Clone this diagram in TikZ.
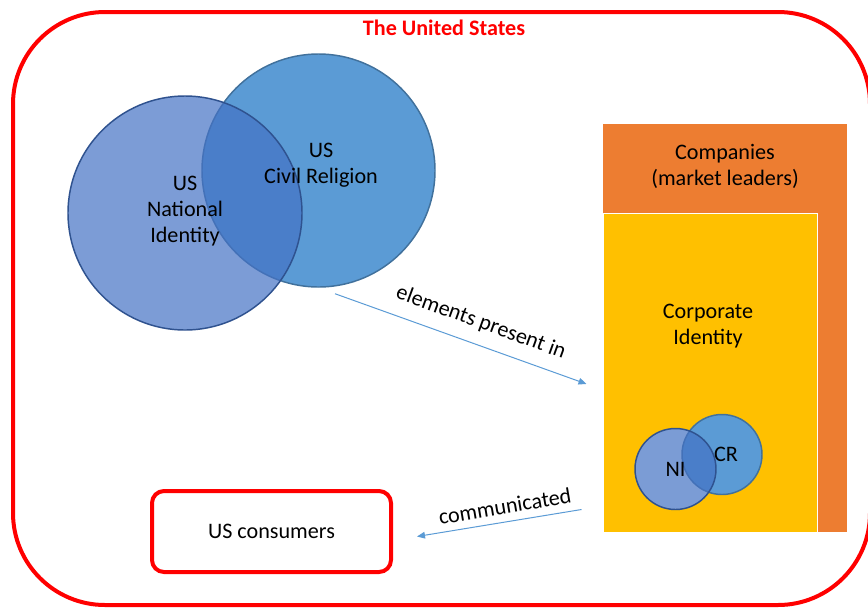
\documentclass[tikz,border=0pt]{standalone}
\usepackage{fontspec}
\setmainfont{Carlito}
\usepackage{tikz}
\usetikzlibrary{arrows.meta}

\definecolor{usred}{HTML}{FF0000}
\definecolor{comporange}{HTML}{ED7D31}
\definecolor{corpyellow}{HTML}{FFC000}
\definecolor{crblue}{HTML}{5B9BD5}
\definecolor{crline}{HTML}{41719C}
\definecolor{niblue}{HTML}{4472C4}
\definecolor{niline}{HTML}{2F528F}

\begin{document}
\begin{tikzpicture}[x=0.75pt, y=-0.75pt, >={Triangle[length=6pt, width=5pt]},
    font=\fontsize{16.6}{19.5}\selectfont,
    cr/.style={circle, draw=crline, fill=crblue, line width=1.1pt, inner sep=0pt},
    ni/.style={circle, draw=niline, fill=niblue, fill opacity=0.7, text opacity=1,
               line width=1.1pt, inner sep=0pt},
    block/.style={rectangle, inner sep=0pt},
    box/.style={draw=usred, line width=3pt, rounded corners=9pt},
    flow/.style={->, draw=crblue, line width=0.75pt},
    flowlabel/.style={anchor=south, inner sep=9pt}]
    \useasboundingbox (0,0) rectangle (868,608);

    % the country around everything
    \draw[usred, line width=3pt, rounded corners=69pt] (13,12) rectangle (870,605);
    \node[text=usred, font=\fontsize{16.6}{19.5}\selectfont\bfseries] (title) at (444,28) {The United States};

    % national identity and civil religion
    \node[cr, minimum size=174.75pt] (cr) at (318.5,170.5) {};
    \node[ni, minimum size=175.5pt] (ni) at (185,213) {};
    \node[align=center] (crlbl) at ([xshift=1.9pt, yshift=4.1pt]cr.center) {US\\Civil Religion};
    \node[align=center] (nilbl) at ([yshift=1.6pt]ni.center) {US\\National\\Identity};

    % companies and their corporate identity
    \node[block, fill=comporange, minimum width=183pt, minimum height=306pt] (comp) at (725,328) {};
    \node[align=center] (complbl) at (725,166) {Companies\\(market leaders)};
    \node[block, fill=corpyellow, draw=white, line width=0.75pt,
          minimum width=160.5pt, minimum height=239.25pt] (corp) at (710,372.5) {};
    \node[align=center] (corplbl) at (708,326) {Corporate\\Identity};

    % white base so the yellow does not show through NI
    \node[circle, fill=white, inner sep=0pt, minimum size=60.75pt] (ni2base) at (675.5,469) {};
    \node[cr, minimum size=60pt] (cr2) at (722,454.5) {};
    \node[ni, minimum size=60.75pt] (ni2) at (675.5,469) {NI};
    \node (cr2lbl) at ([xshift=3pt]cr2.center) {CR};

    \node[box, minimum width=179.25pt, minimum height=60.75pt] (cons) at (271.5,531.5) {US consumers};

    \draw[flow] ([xshift=12.4pt, yshift=-4.5pt]cr.south)
        -- node[flowlabel, pos=.55, rotate=-20] {elements present in}
        ([xshift=-12pt, yshift=-8.6pt]corp.west);
    \draw[flow] ([xshift=-15.75pt, yshift=17.25pt]corp.south west)
        -- node[flowlabel, pos=.45, rotate=9.5, inner sep=5.5pt] {communicated}
        ([xshift=18pt, yshift=-3.75pt]cons.east);
\end{tikzpicture}
\end{document}
